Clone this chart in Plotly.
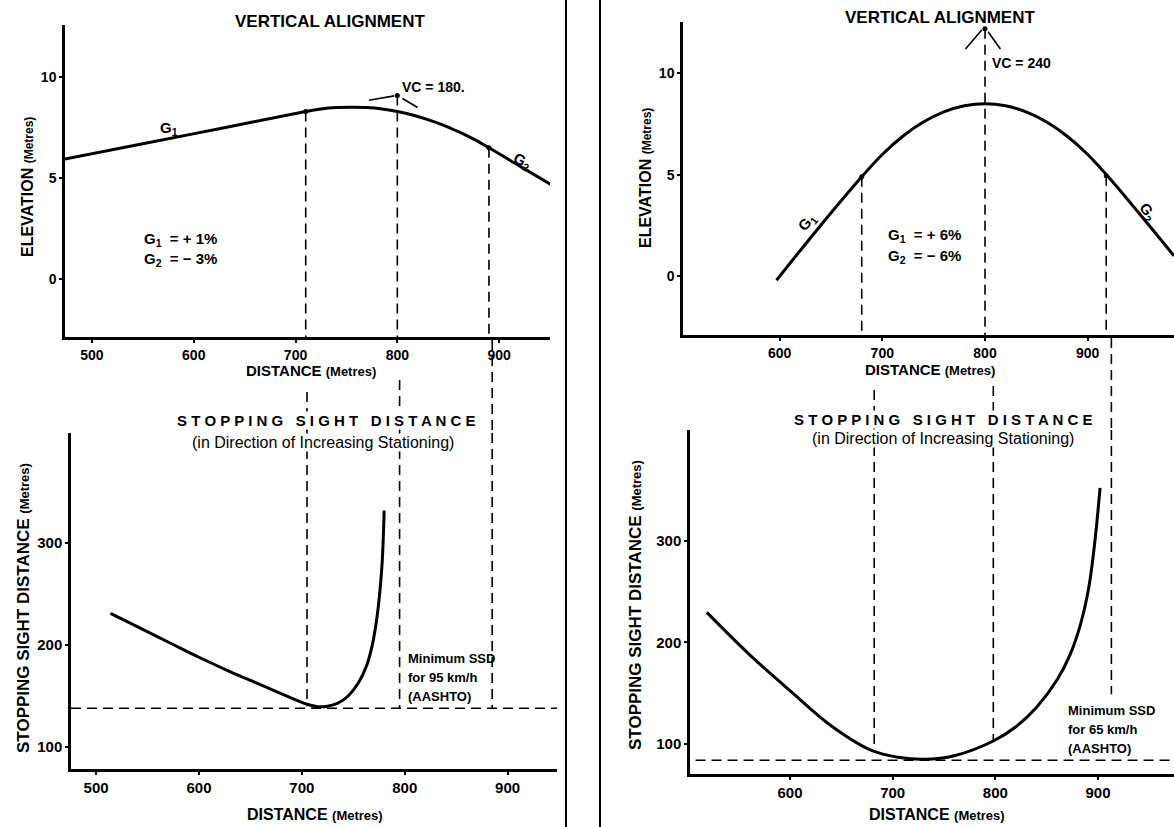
import plotly.graph_objects as go

W, H = 1174, 827
FONT = "Liberation Sans, Arial, sans-serif"

# ---------------- DATA ----------------
# Left case: G1 = +1 %, G2 = -3 %, VC = 180 m
tl_dist = [473, 550, 630, 710, 725, 740, 755, 770, 785, 800, 815, 830, 845, 860, 875, 890, 920, 952]
tl_elev = [5.94, 6.7, 7.5, 8.3, 8.43, 8.5, 8.52, 8.5, 8.43, 8.3, 8.13, 7.9, 7.63, 7.3, 6.93, 6.5, 5.6, 4.64]
tl_key_dist = [710, 800, 890]          # PVC, PVI, PVT
tl_key_elev = [8.3, 9.1, 6.5]
tl_tan_in_dist = [772, 797]
tl_tan_in_elev = [8.86, 9.08]
tl_tan_out_dist = [805, 820]
tl_tan_out_elev = [8.95, 8.5]

bl_dist = [514, 540, 570, 600, 630, 660, 690, 705, 715, 725, 735, 745, 755, 763, 768, 772, 775, 778, 780]
bl_ssd = [231, 218, 203, 188, 174, 161, 148, 142, 139.5, 140, 143, 150, 163, 180, 198, 220, 244, 280, 332]
bl_key_dist = [705, 795, 885]
bl_key_end = [140, 138, 138]
bl_min_ssd = 138

# Right case: G1 = +6 %, G2 = -6 %, VC = 240 m
tr_dist = [597, 640, 680, 700, 720, 740, 760, 780, 800, 820, 840, 860, 880, 900, 920, 950, 984]
tr_elev = [-0.2, 2.5, 4.9, 6.0, 6.9, 7.6, 8.1, 8.4, 8.5, 8.4, 8.1, 7.6, 6.9, 6.0, 4.9, 3.1, 1.0]
tr_key_dist = [680, 800, 918]
tr_key_elev = [4.9, 12.2, 4.95]
tr_tan_in_dist = [781, 797]
tr_tan_in_elev = [11.2, 12.15]
tr_tan_out_dist = [803, 815]
tr_tan_out_elev = [12.05, 11.2]

br_dist = [519, 560, 600, 640, 680, 705, 731, 760, 798, 820, 840, 860, 873, 883, 891, 897, 902]
br_ssd = [229.5, 188.5, 152.5, 118, 93.4, 87, 85, 88.5, 103, 117, 136, 163, 188.5, 218, 254, 300, 352]
br_key_dist = [682, 798, 913]
br_key_end = [94, 104, 149]
br_min_ssd = 84

# axis ranges / ticks
tl_xrange, tl_yrange = [473.5, 950], [-2.9, 12.6]
tr_xrange, tr_yrange = [506, 984], [-2.9, 12.53]
bl_xrange, bl_yrange = [475.6, 948], [78.4, 408]
br_xrange, br_yrange = [502.6, 974], [70.5, 409]
dist_ticks_l = [500, 600, 700, 800, 900]
dist_ticks_r = [600, 700, 800, 900]
elev_ticks = [0, 5, 10]
ssd_ticks = [100, 200, 300]


def px(x):
    return x / W


def py(y):
    return 1 - y / H


fig = go.Figure()

CURVE = dict(color="black", width=3, shape="spline", smoothing=1.0)


def add_curve(x, y, xa, ya):
    fig.add_trace(go.Scatter(x=x, y=y, mode="lines", line=CURVE, xaxis=xa, yaxis=ya,
                             hoverinfo="skip"))


def add_thin(x, y, xa, ya):
    fig.add_trace(go.Scatter(x=x, y=y, mode="lines", line=dict(color="black", width=1.6),
                             xaxis=xa, yaxis=ya, hoverinfo="skip"))


def add_dots(x, y, xa, ya):
    fig.add_trace(go.Scatter(x=x, y=y, mode="markers", marker=dict(color="black", size=5),
                             xaxis=xa, yaxis=ya, hoverinfo="skip"))


add_curve(tl_dist, tl_elev, "x", "y")
add_thin(tl_tan_in_dist, tl_tan_in_elev, "x", "y")
add_thin(tl_tan_out_dist, tl_tan_out_elev, "x", "y")
add_dots(tl_key_dist, tl_key_elev, "x", "y")

add_curve(tr_dist, tr_elev, "x2", "y2")
add_thin(tr_tan_in_dist, tr_tan_in_elev, "x2", "y2")
add_thin(tr_tan_out_dist, tr_tan_out_elev, "x2", "y2")
add_dots(tr_key_dist, tr_key_elev, "x2", "y2")

add_curve(bl_dist, bl_ssd, "x3", "y3")
add_curve(br_dist, br_ssd, "x4", "y4")

DASH = dict(color="black", width=1.6, dash="10px,6px")
shapes = []

# minimum SSD lines
shapes.append(dict(type="line", xref="x3", yref="y3", x0=bl_xrange[0], x1=bl_xrange[1],
                   y0=bl_min_ssd, y1=bl_min_ssd, line=DASH))
shapes.append(dict(type="line", xref="x4", yref="y4", x0=508, x1=br_xrange[1],
                   y0=br_min_ssd, y1=br_min_ssd, line=DASH))

dom = {
    "tl": ([65, 550], [25, 337]),
    "tr": ([683, 1174], [22, 335]),
    "bl": ([71, 557], [433, 769]),
    "br": ([690, 1174], [430, 774]),
}
# where each dashed line re-appears below the upper panel's axis labels (page pixels)
gap_start_l = [392, 380, 340]
gap_start_r = [390, 386, 338]

# vertical dashed lines (top part, gap part, bottom part)
for s, e in zip(tl_key_dist, tl_key_elev):
    shapes.append(dict(type="line", xref="x", yref="y", x0=s, x1=s, y0=e, y1=tl_yrange[0], line=DASH))
for s, e, g in zip(bl_key_dist, bl_key_end, gap_start_l):
    shapes.append(dict(type="line", xref="x3", yref="paper", x0=s, x1=s,
                       y0=py(g), y1=py(dom["bl"][1][0]), line=DASH))
    shapes.append(dict(type="line", xref="x3", yref="y3", x0=s, x1=s, y0=bl_yrange[1], y1=e, line=DASH))
for s, e in zip(tr_key_dist, tr_key_elev):
    shapes.append(dict(type="line", xref="x2", yref="y2", x0=s, x1=s, y0=e, y1=tr_yrange[0], line=DASH))
for s, e, g in zip(br_key_dist, br_key_end, gap_start_r):
    shapes.append(dict(type="line", xref="x4", yref="paper", x0=s, x1=s,
                       y0=py(g), y1=py(dom["br"][1][0]), line=DASH))
    shapes.append(dict(type="line", xref="x4", yref="y4", x0=s, x1=s, y0=br_yrange[1], y1=e, line=DASH))

# page dividers
for xv in [566, 600]:
    shapes.append(dict(type="line", xref="paper", yref="paper", x0=px(xv), x1=px(xv), y0=0, y1=1,
                       line=dict(color="black", width=2)))

ann = []


def text(t, x, y, size=14, anchor="center", angle=0, bold=True, bg=None):
    a = dict(text=t, x=px(x), y=py(y), xref="paper", yref="paper", showarrow=False,
             xanchor=anchor, yanchor="middle", textangle=angle, borderpad=0,
             font=dict(family=FONT, size=size, color="black", weight="bold" if bold else "normal"))
    if bg:
        a["bgcolor"] = bg
    ann.append(a)


ytitle_e = "ELEVATION <span style='font-size:12px'>(Metres)</span>"
ytitle_s = "STOPPING SIGHT DISTANCE <span style='font-size:13px'>(Metres)</span>"
xtitle = "DISTANCE <span style='font-size:13px'>(Metres)</span>"
ssd_title = "S T O P P I N G\u00a0\u00a0 S I G H T\u00a0\u00a0 D I S T A N C E"
ssd_sub = "(in Direction of Increasing Stationing)"

# top left
text("VERTICAL ALIGNMENT", 330, 21, 17)
text("VC = 180.", 401, 87, 14, "left")
text("G<sub>1</sub>", 169, 128, 15)
text("G<sub>2</sub>", 522, 162, 15, angle=25)
text("G<sub>1</sub>  = + 1%", 143, 240, 15, "left")
text("G<sub>2</sub>  = − 3%", 143, 259, 15, "left")
text(ytitle_e, 27, 187, 16, angle=-90)
text(xtitle, 311, 370, 15)
# top right
text("VERTICAL ALIGNMENT", 940, 17, 17)
text("VC = 240", 991, 63, 14, "left")
text("G<sub>1</sub>", 807, 222, 15, angle=-50)
text("G<sub>2</sub>", 1148, 212, 15, angle=55)
text("G<sub>1</sub>  = + 6%", 887, 235, 15, "left")
text("G<sub>2</sub>  = − 6%", 887, 256, 15, "left")
text(ytitle_e, 645, 178, 16, angle=-90)
text(xtitle, 930, 369, 15)
# bottom left
text(ssd_title, 326, 421, 15, bg="white")
text(ssd_sub, 323, 442, 16, bold=False, bg="white")
text(ytitle_s, 23, 608, 17, angle=-90)
text(xtitle, 315, 814, 16)
for i, t in enumerate(["Minimum SSD", "for 95 km/h", "(AASHTO)"]):
    text(t, 407, 658 + i * 19, 13, "left")
# bottom right
text(ssd_title, 943, 419, 15, bg="white")
text(ssd_sub, 943, 438, 16, bold=False, bg="white")
text(ytitle_s, 635, 605, 17, angle=-90)
text(xtitle, 937, 814, 16)
for i, t in enumerate(["Minimum SSD", "for 65 km/h", "(AASHTO)"]):
    text(t, 1067, 710 + i * 19, 13, "left")


def axis(domain_px, rng, ticks, anchor, horizontal, fs):
    if horizontal:
        d = [px(domain_px[0]), px(domain_px[1])]
    else:
        d = [py(domain_px[1]), py(domain_px[0])]
    return dict(domain=d, range=rng, tickvals=ticks, anchor=anchor, showline=True,
                linecolor="black", linewidth=2.5, ticks="outside", ticklen=3, tickwidth=1.5,
                tickcolor="black", showgrid=False, zeroline=False, fixedrange=True,
                tickfont=dict(family=FONT, size=fs, color="black", weight="bold"))


fig.update_layout(
    width=W, height=H, autosize=False, margin=dict(l=0, r=0, t=0, b=0),
    paper_bgcolor="white", plot_bgcolor="rgba(0,0,0,0)", showlegend=False,
    xaxis=axis(dom["tl"][0], tl_xrange, dist_ticks_l, "y", True, 14),
    yaxis=axis(dom["tl"][1], tl_yrange, elev_ticks, "x", False, 14),
    xaxis2=axis(dom["tr"][0], tr_xrange, dist_ticks_r, "y2", True, 14),
    yaxis2=axis(dom["tr"][1], tr_yrange, elev_ticks, "x2", False, 14),
    xaxis3=axis(dom["bl"][0], bl_xrange, dist_ticks_l, "y3", True, 15),
    yaxis3=axis(dom["bl"][1], bl_yrange, ssd_ticks, "x3", False, 15),
    xaxis4=axis(dom["br"][0], br_xrange, dist_ticks_r, "y4", True, 15),
    yaxis4=axis(dom["br"][1], br_yrange, ssd_ticks, "x4", False, 15),
    shapes=shapes, annotations=ann,
)

fig.write_html("out.html", config={"displayModeBar": False},
               post_script="document.body.style.margin='0px';document.body.style.overflow='hidden';")
